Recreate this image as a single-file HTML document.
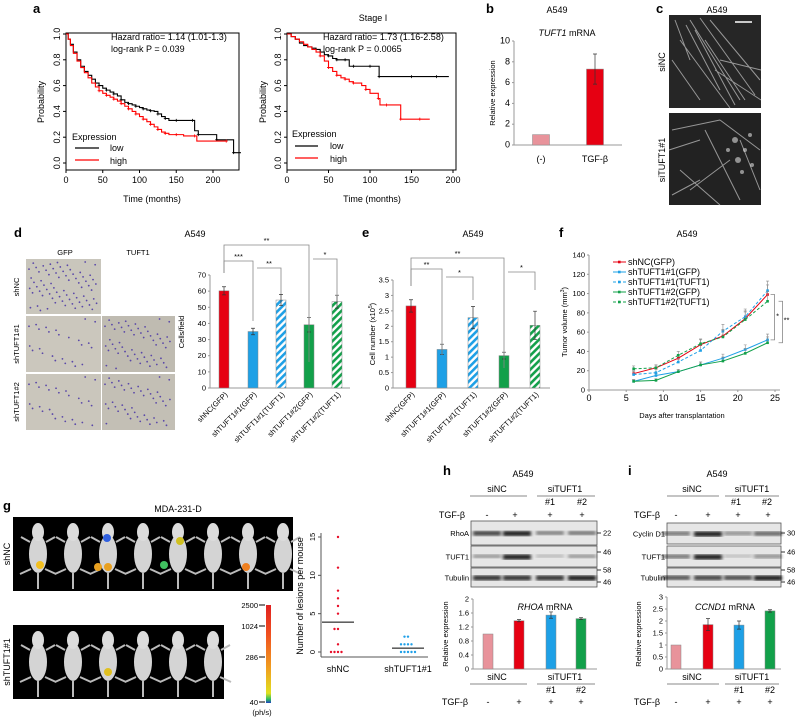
<!DOCTYPE html>
<html><head><meta charset="utf-8"><style>
html,body{margin:0;padding:0;background:#fff;}
svg{display:block;font-family:"Liberation Sans",sans-serif;}
.pl{font-weight:bold;font-size:13px;}
.t{font-size:9px;}
.s{font-size:7.5px;}
</style></head><body>
<svg id="fig" width="800" height="719" viewBox="0 0 800 719" xmlns="http://www.w3.org/2000/svg">
<defs>
<pattern id="hb" width="5" height="5" patternUnits="userSpaceOnUse" patternTransform="rotate(45)"><rect width="5" height="5" fill="#fff"/><rect width="2.6" height="5" fill="#1ea0e6"/></pattern>
<pattern id="hg" width="5" height="5" patternUnits="userSpaceOnUse" patternTransform="rotate(45)"><rect width="5" height="5" fill="#fff"/><rect width="2.6" height="5" fill="#12a04a"/></pattern>
<linearGradient id="cbar" x1="0" y1="1" x2="0" y2="0"><stop offset="0" stop-color="#2040c0"/><stop offset="0.04" stop-color="#30c060"/><stop offset="0.1" stop-color="#e0e020"/><stop offset="0.35" stop-color="#f0a020"/><stop offset="0.7" stop-color="#f05020"/><stop offset="1" stop-color="#e02020"/></linearGradient>
<filter id="bl"><feGaussianBlur stdDeviation="1.6"/></filter>
</defs>
<text class="pl" x="33" y="13">a</text>
<text class="pl" x="486" y="13">b</text>
<text class="pl" x="656" y="13">c</text>
<text class="pl" x="14" y="237">d</text>
<text class="pl" x="362" y="237">e</text>
<text class="pl" x="559" y="237">f</text>
<text class="pl" x="3" y="510">g</text>
<text class="pl" x="443" y="475">h</text>
<text class="pl" x="628" y="475">i</text>

<g id="pa">
<text class="t" x="373" y="21" text-anchor="middle">Stage I</text>
<text class="t" x="111" y="40">Hazard ratio= 1.14 (1.01-1.3)</text>
<text class="t" x="111" y="52">log-rank P = 0.039</text>
<text class="t" x="323" y="40">Hazard ratio= 1.73 (1.16-2.58)</text>
<text class="t" x="323" y="52">log-rank  P  = 0.0065</text>
<text class="t" x="152" y="202" text-anchor="middle">Time (months)</text>
<text class="t" x="372" y="202" text-anchor="middle">Time (months)</text>
<text class="t" transform="translate(44,102) rotate(-90)" text-anchor="middle">Probability</text>
<text class="t" transform="translate(266,102) rotate(-90)" text-anchor="middle">Probability</text>
<text class="t" x="72" y="140">Expression</text>
<line x1="75" y1="148" x2="99" y2="148" stroke="#000" stroke-width="1.2"/>
<text class="t" x="110" y="151">low</text>
<line x1="75" y1="160" x2="99" y2="160" stroke="#f00" stroke-width="1.2"/>
<text class="t" x="110" y="164">high</text>
<text class="t" x="292" y="137">Expression</text>
<line x1="295" y1="146" x2="318" y2="146" stroke="#000" stroke-width="1.2"/>
<text class="t" x="330" y="149">low</text>
<line x1="295" y1="158" x2="318" y2="158" stroke="#f00" stroke-width="1.2"/>
<text class="t" x="330" y="162">high</text>
</g>

<g>
<text class="t" x="557" y="13" text-anchor="middle">A549</text>
<text class="t" x="567" y="36" text-anchor="middle"><tspan font-style="italic">TUFT1</tspan> mRNA</text>
<text class="s" transform="translate(495,93) rotate(-90)" text-anchor="middle">Relative expression</text>
</g>

<g>
<text class="t" x="717" y="13" text-anchor="middle">A549</text>
<rect x="669" y="15" width="92" height="93" fill="#262626"/>
<rect x="669" y="113" width="92" height="92" fill="#222"/>
<g stroke="#c8c8c8" stroke-width="1" opacity="0.7">
<path d="M690 20 L740 100 M700 18 L755 95 M680 40 L730 108 M710 20 L760 80 M672 60 L700 100 M720 60 L761 70 M686 25 L720 90 M695 30 L735 105 M705 40 L745 100 M675 20 L690 60 M715 70 L761 100"/>
<path d="M672 130 L720 120 M705 130 L740 200 M740 140 L760 190 M680 170 L720 205 M720 120 L760 150 M690 190 L730 160 M669 150 L700 140 M672 195 L700 180"/>
</g>
<g fill="#ddd" opacity="0.6"><circle cx="735" cy="140" r="3"/><circle cx="745" cy="150" r="2"/><circle cx="738" cy="160" r="3"/><circle cx="750" cy="135" r="2"/><circle cx="728" cy="150" r="2"/><circle cx="752" cy="165" r="2"/><circle cx="742" cy="172" r="2"/></g>
<line x1="735" y1="22" x2="752" y2="22" stroke="#fff" stroke-width="1.5"/>
<text class="t" transform="translate(665,62) rotate(-90)" text-anchor="middle">siNC</text>
<text class="t" transform="translate(665,160) rotate(-90)" text-anchor="middle">siTUFT1#1</text>
</g>

<g>
<text class="t" x="195" y="237" text-anchor="middle">A549</text>
<text class="s" x="65" y="255" text-anchor="middle">GFP</text>
<text class="s" x="138" y="255" text-anchor="middle">TUFT1</text>
<rect x="26" y="259" width="75" height="55" fill="#c9c6bc"/>
<rect x="26" y="316" width="75" height="56" fill="#cbc7bd"/>
<rect x="102" y="316" width="73" height="56" fill="#bfbbb1"/>
<rect x="26" y="374" width="75" height="56" fill="#cac6bc"/>
<rect x="102" y="374" width="73" height="56" fill="#c3bfb5"/>
<g id="dots" fill="#5a48a8"></g>
<text class="s" transform="translate(19,287) rotate(-90)" text-anchor="middle">shNC</text>
<text class="s" transform="translate(19,344) rotate(-90)" text-anchor="middle">shTUFT1#1</text>
<text class="s" transform="translate(19,402) rotate(-90)" text-anchor="middle">shTUFT1#2</text>
<text class="s" transform="translate(184,332) rotate(-90)" text-anchor="middle">Cells/field</text>
</g>

<text class="t" x="473" y="237" text-anchor="middle">A549</text>
<text class="s" transform="translate(375,334) rotate(-90)" text-anchor="middle">Cell number (x10<tspan baseline-shift="super" font-size="5">5</tspan>)</text>
<text class="t" x="687" y="237" text-anchor="middle">A549</text>
<text class="s" transform="translate(567,322) rotate(-90)" text-anchor="middle">Tumor volume (mm<tspan baseline-shift="super" font-size="5">3</tspan>)</text>
<text class="s" x="682" y="418" text-anchor="middle">Days after transplantation</text>

<g>
<text class="t" x="178" y="512" text-anchor="middle">MDA-231-D</text>
<rect x="13" y="517" width="280" height="74" fill="#000"/>
<rect x="13" y="625" width="211" height="74" fill="#000"/>
<g id="mice"></g>
<text class="t" transform="translate(10,554) rotate(-90)" text-anchor="middle">shNC</text>
<text class="t" transform="translate(10,662) rotate(-90)" text-anchor="middle">shTUFT1#1</text>
<rect x="266" y="605" width="5" height="98" fill="url(#cbar)"/>
<g class="s" text-anchor="end">
<text x="258" y="608">2500</text><text x="258" y="629">1024</text><text x="258" y="660">286</text><text x="258" y="705">40</text>
</g>
<g stroke="#000"><line x1="259" y1="605" x2="265" y2="605"/><line x1="259" y1="626" x2="265" y2="626"/><line x1="259" y1="657" x2="265" y2="657"/><line x1="259" y1="702" x2="265" y2="702"/></g>
<text class="s" x="262" y="715" text-anchor="middle">(ph/s)</text>
<text class="t" transform="translate(303,596) rotate(-90)" text-anchor="middle">Number of lesions per mouse</text>
<text class="t" x="338" y="672" text-anchor="middle">shNC</text>
<text class="t" x="408" y="672" text-anchor="middle">shTUFT1#1</text>
</g>

<g class="t">
<text x="523" y="477" text-anchor="middle">A549</text>
<text x="497" y="492" text-anchor="middle">siNC</text><line x1="470" y1="496" x2="527" y2="496" stroke="#888"/>
<text x="565" y="492" text-anchor="middle">siTUFT1</text><line x1="537" y1="496" x2="595" y2="496" stroke="#888"/>
<text x="550" y="505" text-anchor="middle">#1</text><text x="582" y="505" text-anchor="middle">#2</text>
<text x="452" y="518" text-anchor="middle">TGF-β</text>
<text x="487" y="518" text-anchor="middle">-</text><text x="515" y="518" text-anchor="middle">+</text><text x="550" y="518" text-anchor="middle">+</text><text x="582" y="518" text-anchor="middle">+</text>
</g>
<g class="t">
<text x="717" y="477" text-anchor="middle">A549</text>
<text x="692" y="492" text-anchor="middle">siNC</text><line x1="667" y1="496" x2="719" y2="496" stroke="#888"/>
<text x="752" y="492" text-anchor="middle">siTUFT1</text><line x1="725" y1="496" x2="779" y2="496" stroke="#888"/>
<text x="736" y="505" text-anchor="middle">#1</text><text x="767" y="505" text-anchor="middle">#2</text>
<text x="647" y="518" text-anchor="middle">TGF-β</text>
<text x="676" y="518" text-anchor="middle">-</text><text x="708" y="518" text-anchor="middle">+</text><text x="738" y="518" text-anchor="middle">+</text><text x="768" y="518" text-anchor="middle">+</text>
</g>
<g class="t">
<text x="497" y="680" text-anchor="middle">siNC</text><line x1="470" y1="684" x2="527" y2="684" stroke="#888"/>
<text x="565" y="680" text-anchor="middle">siTUFT1</text><line x1="537" y1="684" x2="595" y2="684" stroke="#888"/>
<text x="551" y="693" text-anchor="middle">#1</text><text x="581" y="693" text-anchor="middle">#2</text>
<text x="455" y="705" text-anchor="middle">TGF-β</text>
<text x="488" y="705" text-anchor="middle">-</text><text x="519" y="705" text-anchor="middle">+</text><text x="551" y="705" text-anchor="middle">+</text><text x="581" y="705" text-anchor="middle">+</text>
</g>
<g class="t">
<text x="692" y="680" text-anchor="middle">siNC</text><line x1="667" y1="684" x2="719" y2="684" stroke="#888"/>
<text x="752" y="680" text-anchor="middle">siTUFT1</text><line x1="725" y1="684" x2="779" y2="684" stroke="#888"/>
<text x="739" y="693" text-anchor="middle">#1</text><text x="770" y="693" text-anchor="middle">#2</text>
<text x="647" y="705" text-anchor="middle">TGF-β</text>
<text x="676" y="705" text-anchor="middle">-</text><text x="708" y="705" text-anchor="middle">+</text><text x="739" y="705" text-anchor="middle">+</text><text x="770" y="705" text-anchor="middle">+</text>
</g>
<text class="t" x="545" y="610" text-anchor="middle"><tspan font-style="italic">RHOA</tspan> mRNA</text>
<text class="t" x="725" y="610" text-anchor="middle"><tspan font-style="italic">CCND1</tspan> mRNA</text>
<text class="s" transform="translate(448,634) rotate(-90)" text-anchor="middle">Relative expression</text>
<text class="s" transform="translate(641,634) rotate(-90)" text-anchor="middle">Relative expression</text>
<g id="dyn"></g>
</svg>
<script>
const kmLeftLowT=[0,3,6,10,15,20,25,30,35,40,45,50,55,60,65,70,75,80,85,90,95,100,105,110,115,120,125,130,135,140,150,160,172,175,180,202,205,225,228,238];
const kmLeftLowP=[1,.96,.92,.86,.8,.75,.71,.68,.65,.62,.6,.58,.565,.55,.535,.52,.49,.47,.46,.45,.44,.43,.42,.41,.405,.40,.38,.36,.345,.33,.33,.33,.33,.25,.22,.22,.18,.18,.08,.08];
const kmLeftHighT=[0,3,6,10,15,20,25,30,35,40,45,50,55,60,65,70,75,80,85,90,95,100,105,110,115,120,125,130,135,140,150,160,175,178,218];
const kmLeftHighP=[1,.96,.91,.85,.79,.74,.7,.66,.62,.59,.56,.54,.525,.51,.495,.48,.46,.44,.42,.40,.38,.36,.34,.32,.30,.28,.26,.24,.23,.22,.22,.21,.21,.17,.17];
const kmRightLowT=[0,5,10,15,20,25,30,35,40,45,50,55,60,65,70,75,80,90,100,110,111,120,150,160,180,195];
const kmRightLowP=[1,.98,.96,.93,.91,.9,.89,.88,.86,.84,.83,.81,.80,.80,.80,.75,.75,.75,.75,.75,.67,.67,.67,.67,.67,.67];
const kmRightHighT=[0,5,10,15,20,25,30,35,40,45,50,55,60,65,70,75,80,90,95,100,110,112,120,135,137,150,160,172];
const kmRightHighP=[1,.98,.96,.94,.92,.9,.88,.86,.83,.79,.74,.71,.68,.66,.65,.63,.62,.60,.57,.54,.50,.45,.45,.45,.34,.34,.34,.34];
const kmTicks=[0,50,100,150,200];
const probTicks=["0.0","0.2","0.4","0.6","0.8","1.0"];
const bCats=["(-)","TGF-β"]; const bVals=[1,7.3]; const bErr=[0,1.45]; const bTicks=[0,2,4,6,8,10];
const dCats=["shNC(GFP)","shTUFT1#1(GFP)","shTUFT1#1(TUFT1)","shTUFT1#2(GFP)","shTUFT1#2(TUFT1)"];
const dVals=[60.2,35,54.5,39.2,53.5]; const dErr=[2.5,2,3.5,4.5,4]; const dTicks=[0,10,20,30,40,50,60,70];
const eVals=[2.66,1.25,2.28,1.05,2.03]; const eErr=[.2,.17,.36,.11,.46]; const eTicks=["0","0.5","1","1.5","2","2.5","3","3.5"];
const fDays=[6,9,12,15,18,21,24];
const fNames=["shNC(GFP)","shTUFT1#1(GFP)","shTUFT1#1(TUFT1)","shTUFT1#2(GFP)","shTUFT1#2(TUFT1)"];
const fShNC=[17,23,33,47,56,74,99];
const fSh1G=[9,15,19,26,33,42,52];
const fSh1T=[16,18,29,41,61,76,103];
const fSh2G=[9,10,19,26,30,38,49];
const fSh2T=[22,23,36,48,55,73,92];
const fErr=[3,3,4,5,7,8,10];
const fXTicks=[0,5,10,15,20,25]; const fYTicks=[0,20,40,60,80,100,120,140];
const gShNC=[15,11,8,7,6,5,3,3,1,0,0,0,0]; const gSh1=[2,2,1,1,1,1,0,0,0,0,0];
const gMeanNC=3.9; const gMean1=0.5; const gTicks=[0,5,10,15];
const hVals=[1,1.38,1.54,1.44]; const hErr=[0,.03,.09,.03]; const hTicks=["0","0.4","0.8","1.2","1.6","2"];
const iVals=[1,1.85,1.83,2.42]; const iErr=[0,.25,.17,.05]; const iTicks=["0","0.5","1","1.5","2","2.5","3"];
const blotH=[[.8,1,.45,.5],[.3,1,.08,.3],[.9,.9,.9,1]];
const blotI=[[.5,1,.35,.6],[.5,1,.05,.35],[.7,.8,.75,1]];

const NS="http://www.w3.org/2000/svg", root=document.getElementById('dyn');
function mk(tag,a,p){const e=document.createElementNS(NS,tag);for(const k in a)e.setAttribute(k,a[k]);(p||root).appendChild(e);return e;}
function txt(x,y,s,cls,anchor){const e=mk('text',{x:x,y:y,class:cls||'s','text-anchor':anchor||'middle'});e.textContent=s;return e;}

function km(x0,x1,xmax,ts,ps,col,name){
  const sx=t=>x0+t*(x1-x0)/xmax, sy=p=>163-p*129;
  let d='M'+sx(ts[0])+' '+sy(ps[0]);
  for(let i=1;i<ts.length;i++){d+=' H'+sx(ts[i])+' V'+sy(ps[i]);}
  const l=mk('path',{d:d,fill:'none',stroke:col,'stroke-width':1.1});
  
  
  for(let i=2;i<ts.length;i+=2){if(ts[i]<40)continue;const c=mk('path',{d:'M'+(sx(ts[i])-1.5)+' '+sy(ps[i])+'h3M'+sx(ts[i])+' '+(sy(ps[i])-1.5)+'v3',stroke:col,'stroke-width':.8});
    
    }
}
function kmAxes(bx0,bx1,x0,x1,xmax,name){
  const r=mk('rect',{x:bx0,y:33,width:bx1-bx0,height:137,fill:'none',stroke:'#000','stroke-width':1});
  
  
  kmTicks.forEach(t=>{const x=x0+t*(x1-x0)/xmax;mk('line',{x1:x,y1:170,x2:x,y2:173,stroke:'#000'});
    const e=txt(x,183,String(t),'t');});
  probTicks.forEach((t,i)=>{const y=163-parseFloat(t)*129;mk('line',{x1:bx0-3,y1:y,x2:bx0,y2:y,stroke:'#000'});
    const e=mk('text',{class:'t','text-anchor':'middle',transform:`translate(${bx0-6},${y}) rotate(-90)`});e.textContent=t;
    });
}
kmAxes(66,239,66,213,200,'km-left-plot'); kmAxes(287,456,287,453,200,'km-right-plot');
km(66,213,200,kmLeftLowT,kmLeftLowP,'#000','km-left-low'); km(66,213,200,kmLeftHighT,kmLeftHighP,'#f00','km-left-high');
km(287,453,200,kmRightLowT,kmRightLowP,'#000','km-right-low'); km(287,453,200,kmRightHighT,kmRightHighP,'#f00','km-right-high');

function barChart(o){
  const sy=v=>o.y0-v*(o.y0-o.yTop)/o.max;
  mk('line',{x1:o.ax,y1:o.yTop,x2:o.ax,y2:o.y0,stroke:'#999'});
  mk('line',{x1:o.ax,y1:o.y0,x2:o.axEnd,y2:o.y0,stroke:'#999'});
  o.ticks.forEach(t=>{const v=parseFloat(t),y=sy(v);mk('line',{x1:o.ax-2,y1:y,x2:o.ax,y2:y,stroke:'#999'});
    const e=txt(o.ax-4,y+2.5,String(t),o.tcls||'s','end');});
  o.vals.forEach((v,i)=>{const cx=o.cx[i];
    const b=mk('rect',{x:cx-o.w/2,y:sy(v),width:o.w,height:o.y0-sy(v),fill:o.fills[i],stroke:'#888','stroke-width':.5});
    
    
    if(o.err[i]>0){mk('path',{d:`M${cx} ${sy(v+o.err[i])}V${sy(v-o.err[i])}M${cx-2} ${sy(v+o.err[i])}h4M${cx-2} ${sy(v-o.err[i])}h4`,stroke:'#333','stroke-width':.7});}
  });
  return sy;
}
const R='#e60012',P='#e8939b',B='#1ea0e6',G='#12a04a';
barChart({name:'b',ax:514,axEnd:622,y0:145,yTop:41,max:10,ticks:bTicks,vals:bVals,err:bErr,cx:[541,595],w:17,fills:[P,R],tcls:'t'});
bCats.forEach((c,i)=>{const e=txt([541,595][i],162,c,'t');});
const dcx=[224,253,281,309,337];
barChart({name:'d',ax:210,axEnd:350,y0:388,yTop:275,max:70,ticks:dTicks,vals:dVals,err:dErr,cx:dcx,w:10,fills:[R,B,'url(#hb)',G,'url(#hg)']});
const ecx=[411,442,473,504,535];
barChart({name:'e',ax:393,axEnd:550,y0:388,yTop:280,max:3.5,ticks:eTicks,vals:eVals,err:eErr,cx:ecx,w:10,fills:[R,B,'url(#hb)',G,'url(#hg)']});
[dcx,ecx].forEach(arr=>arr.forEach((cx,i)=>{const e=mk('text',{class:'s','text-anchor':'end',transform:`translate(${cx+4},${395}) rotate(-45)`,'font-size':'7'});e.textContent=dCats[i];
  }));
function bracket(x1,x2,y,b1,b2,lab){mk('path',{d:`M${x1} ${b1}V${y}H${x2}V${b2}`,fill:'none',stroke:'#888','stroke-width':.8});
  const e=txt((x1+x2)/2,y-2,lab,'s');}
bracket(224,309,245,273,362,'**');bracket(224,253,261,273,321,'***');bracket(257,281,268,268,294,'**');bracket(313,337,259,259,296,'*');
bracket(411,504,258,286,368,'**');bracket(411,442,269,286,355,'**');bracket(446,473,277,277,300,'*');bracket(508,535,272,272,290,'*');
(function(){
  const sx=d=>589+d*(775-589)/25, sy=v=>390-v*(390-255)/140;
  mk('line',{x1:589,y1:255,x2:589,y2:390,stroke:'#999'});mk('line',{x1:589,y1:390,x2:780,y2:390,stroke:'#999'});
  fYTicks.forEach(t=>{mk('line',{x1:587,y1:sy(t),x2:589,y2:sy(t),stroke:'#999'});const e=txt(585,sy(t)+2.5,String(t),'s','end');});
  fXTicks.forEach(t=>{mk('line',{x1:sx(t),y1:390,x2:sx(t),y2:392,stroke:'#999'});const e=txt(sx(t),401,String(t),'t');});
  const series=[[fShNC,R,''],[fSh1G,B,''],[fSh1T,B,'3,2'],[fSh2G,G,''],[fSh2T,G,'3,2']];
  series.forEach((s,k)=>{
    const d=fDays.map((x,i)=>(i?'L':'M')+sx(x)+' '+sy(s[0][i])).join('');
    fDays.forEach((x,i)=>{const e=fErr[i]*(s[0][i]>60||k%2==0?1:.6);mk('path',{d:`M${sx(x)} ${sy(s[0][i])}V${sy(s[0][i]+e)}M${sx(x)-1.5} ${sy(s[0][i]+e)}h3`,stroke:'#888','stroke-width':.6});});
    const l=mk('path',{d:d,fill:'none',stroke:s[1],'stroke-width':1,'stroke-dasharray':s[2]});
    
    
    fDays.forEach((x,i)=>{mk('rect',{x:sx(x)-1.3,y:sy(s[0][i])-1.3,width:2.6,height:2.6,fill:s[1]});});
    const ly=262+k*10;
    const lg=mk('line',{x1:613,y1:ly,x2:626,y2:ly,stroke:s[1],'stroke-width':1,'stroke-dasharray':s[2]});
    
    
    mk('rect',{x:618,y:ly-1.3,width:2.6,height:2.6,fill:s[1]});
    const t=txt(628,ly+3,fNames[k],'t','start');
    
    
  });
  mk('path',{d:`M${sx(24)+3} ${sy(99)}H${sx(24)+7}V${sy(52)}H${sx(24)+3}`,fill:'none',stroke:'#888','stroke-width':.8});
  mk('path',{d:`M${sx(24)+11} ${sy(92)}H${sx(24)+15}V${sy(49)}H${sx(24)+11}`,fill:'none',stroke:'#888','stroke-width':.8});
  txt(sx(24)+10,sy(74),'*','s');txt(sx(24)+19,sy(70),'**','s');
})();
(function(){
  const sy=v=>652-v*(652-537)/15;
  mk('line',{x1:321,y1:533,x2:321,y2:657,stroke:'#555'});mk('line',{x1:321,y1:657,x2:428,y2:657,stroke:'#555'});
  gTicks.forEach(t=>{mk('line',{x1:318,y1:sy(t),x2:321,y2:sy(t),stroke:'#555'});const e=mk('text',{class:'s','text-anchor':'middle',transform:`translate(315,${sy(t)}) rotate(-90)`});e.textContent=t;});
  function grp(vals,cx,col,mean,name){const cnt={};vals.forEach(v=>{cnt[v]=(cnt[v]||0)+1;const n=cnt[v];const off=(n%2?1:-1)*Math.floor(n/2)*3.5;
      const c=mk('circle',{cx:cx+off,cy:sy(v),r:1.2,fill:col});});
    const m=mk('line',{x1:cx-16,y1:sy(mean),x2:cx+16,y2:sy(mean),stroke:'#000','stroke-width':1});}
  grp(gShNC,338,'#e8102a',gMeanNC,'shnc');grp(gSh1,408,'#20a0e8',gMean1,'shtuft1');
})();
(function(){
  const g=document.getElementById('mice');
  function mouse(x,y){mk('ellipse',{cx:x,cy:y+34,rx:9,ry:19,fill:'#d4d4d4'},g);mk('ellipse',{cx:x,cy:y+12,rx:6,ry:9,fill:'#dcdcdc'},g);
    mk('path',{d:`M${x-8} ${y+22}l-9 -5M${x+8} ${y+22}l9 -5M${x-7} ${y+49}l-11 5M${x+7} ${y+49}l11 5M${x} ${y+53}v16`,stroke:'#bbb','stroke-width':2},g);}
  for(let i=0;i<8;i++)mouse(38+i*35,520);
  for(let i=0;i<6;i++)mouse(38+i*35,628);
  [[40,565,'#f3c020'],[98,567,'#e8a020'],[108,567,'#e8a020'],[164,565,'#40c060'],[246,567,'#f08020'],[107,538,'#3060e0'],[180,541,'#d0c020'],[108,672,'#e0c020']].forEach(s=>{mk('circle',{cx:s[0],cy:s[1],r:4,fill:s[2]},g);});
})();
(function(){
  const g=document.getElementById('dots');
  const boxes=[[26,259,75,55,70],[26,316,75,56,25],[102,316,73,56,55],[26,374,75,56,28],[102,374,73,56,45]];
  boxes.forEach(b=>{for(let i=0;i<b[4];i++){const fx=((i*37)%97)/97, fy=((i*61+13)%89)/89;mk('circle',{cx:b[0]+3+fx*(b[2]-6),cy:b[1]+3+fy*(b[3]-6),r:.9,fill:'#5a48a8'},g);}});
})();
function blot(x0,x1,rows,labels,lanes,vals,markers,name){
  rows.forEach((r,ri)=>{const bx=mk('rect',{x:x0,y:r[0],width:x1-x0,height:r[1]-r[0],fill:'#e6e6e6',stroke:'#555','stroke-width':.8});
    
    const mid=(r[0]+r[1])/2;
    lanes.forEach((lx,li)=>{const v=vals[ri][li];mk('rect',{x:lx-14,y:mid-2,width:28,height:3+2*v,fill:'#000',opacity:.15+.75*v,filter:'url(#bl)'});});
    const t=txt(x0-2,mid+3,labels[ri],'s','end');});
  markers.forEach(m=>{mk('line',{x1:x1,y1:m[0],x2:x1+4,y2:m[0],stroke:'#333'});const t=txt(x1+6,m[0]+2.5,m[1],'s','start');});
}
blot(471,597,[[521,545],[546,567],[568,587]],['RhoA','TUFT1','Tubulin'],[487,517,550,582],blotH,[[533,'22'],[552,'46'],[570,'58'],[582,'46']],'h');
blot(667,781,[[523,544],[546,567],[568,587]],['Cyclin D1','TUFT1','Tubulin'],[676,708,738,768],blotI,[[533,'30'],[552,'46'],[570,'58'],[582,'46']],'i');
barChart({name:'h',ax:473,axEnd:597,y0:669,yTop:599,max:2,ticks:hTicks,vals:hVals,err:hErr,cx:[488,519,551,581],w:10,fills:[P,R,B,G]});
barChart({name:'i',ax:667,axEnd:781,y0:669,yTop:597,max:3,ticks:iTicks,vals:iVals,err:iErr,cx:[676,708,739,770],w:10,fills:[P,R,B,G]});
</script>
</body></html>
